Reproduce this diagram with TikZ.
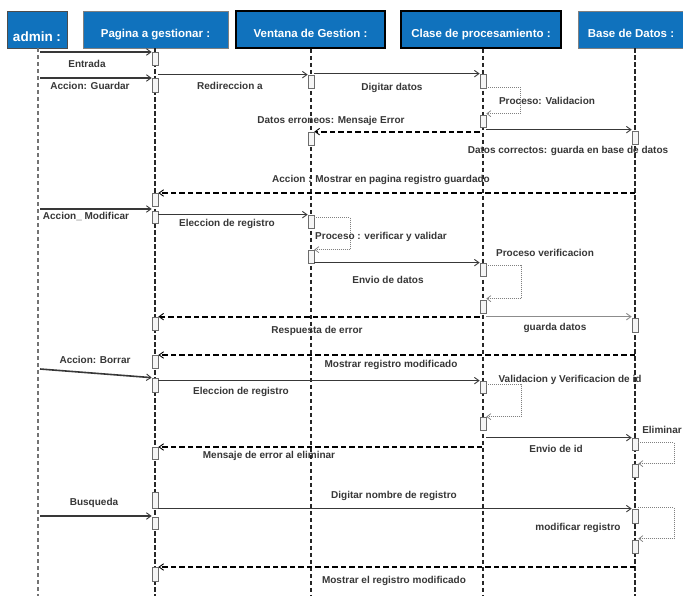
\documentclass[tikz,border=0pt]{standalone}
\usepackage{fontspec}
\setmainfont{Liberation Sans}
\usetikzlibrary{arrows.meta}
\definecolor{hdrblue}{RGB}{16,114,189}
\definecolor{txtgray}{RGB}{55,55,55}
\begin{document}
\begin{tikzpicture}[x=1pt,y=-1pt,
  hdr/.style={draw=#1, fill=hdrblue, text=white, font=\bfseries\fontsize{11.5}{12}\selectfont, inner sep=0pt, text height=16pt, text depth=0pt, minimum height=37pt},
  act/.style={draw=gray!85!black, fill=gray!8, line width=0.7pt, minimum width=6pt, minimum height=#1, inner sep=0pt},
  act/.default=13pt,
  life/.style={draw=black!85, line width=1.6pt, dash pattern=on 4.5pt off 2.5pt},
  lifeadm/.style={draw=black!55, line width=1.3pt, dash pattern=on 4pt off 3pt},
  msg/.style={draw=black!78, line width=1.6pt, -{Straight Barb[length=4.5pt,width=6.5pt,line width=0.9pt]}},
  msglight/.style={draw=black!45, line width=1.3pt, -{Straight Barb[length=4.5pt,width=6.5pt,line width=0.9pt]}},
  ret/.style={draw=black, line width=1.8pt, dash pattern=on 5.5pt off 3pt, -{Straight Barb[length=4.5pt,width=6.5pt,line width=0.9pt]}},
  loopmsg/.style={draw=gray, line width=0.8pt, dash pattern=on 1pt off 1pt, -{Straight Barb[length=4pt,width=6pt,line width=0.7pt]}},
  lbl/.style={text=txtgray, font=\bfseries\fontsize{10}{11}\selectfont, inner sep=0pt},
]
\useasboundingbox[fill=white] (0,0) rectangle (683,596);

% headers
\node[hdr=black!70, minimum width=60pt, text height=25pt, font=\bfseries\fontsize{13.5}{14}\selectfont] (Ha) at (37,29.5) {admin :};
\node[hdr=black!50, minimum width=145pt] (Hp) at (155.5,29.5) {Pagina a gestionar :};
\node[hdr=black, line width=1.6pt, minimum width=149pt] (Hv) at (310.5,29.5) {Ventana de Gestion :};
\node[hdr=black, line width=1.6pt, minimum width=160pt] (Hc) at (481,29.5) {Clase de procesamiento :};
\node[hdr=black!50, minimum width=106pt] (Hb) at (631,29.5) {Base de Datos :};

% lifeline ends
\coordinate (Ae) at (38,596);
\coordinate (Pe) at (155,596);
\coordinate (Ve) at (311,596);
\coordinate (Ce) at (483,596);
\coordinate (Be) at (635,596);
\draw[lifeadm] (Ae |- Ha.south) -- (Ae);
\draw[life] (Pe |- Hp.south) -- (Pe);
\draw[life] (Ve |- Hv.south) -- (Ve);
\draw[life] (Ce |- Hc.south) -- (Ce);
\draw[life] (Be |- Hb.south) -- (Be);

% activations
\node[act=13pt] (P1) at (155,58.5) {};
\node[act=14pt] (P2) at (155,85) {};
\node[act=13pt] (V1) at (311,81.5) {};
\node[act=14pt] (C1) at (483,81) {};
\node[act=12pt] (C2) at (483,121) {};
\node[act=13pt] (V2) at (311,138.5) {};
\node[act=13pt] (B1) at (635,137.5) {};
\node[act=13pt] (P3) at (155,199.5) {};
\node[act=12pt] (P4) at (155,217) {};
\node[act=13pt] (V3) at (311,221.5) {};
\node[act=13pt] (V4) at (311,256.5) {};
\node[act=13pt] (C3) at (483,269.5) {};
\node[act=13pt] (C4) at (483,306.5) {};
\node[act=13pt] (P5) at (155,323.5) {};
\node[act=14pt] (B2) at (635,325) {};
\node[act=13pt] (P6) at (155,361.5) {};
\node[act=14pt] (P7) at (155,385) {};
\node[act=12pt] (C5) at (483,387) {};
\node[act=13pt] (C6) at (483,423.5) {};
\node[act=12pt] (B3) at (635,444) {};
\node[act=12pt] (P8) at (155,453) {};
\node[act=13pt] (B4) at (635,470.5) {};
\node[act=16pt] (P9) at (155,500) {};
\node[act=12pt] (P10) at (155,523) {};
\node[act=14pt] (B5) at (635,516) {};
\node[act=13pt] (B6) at (635,546.5) {};
\node[act=14pt] (P11) at (155,574) {};

% free ends
\coordinate (a1) at (40,52);
\coordinate (a2) at (40,78);
\coordinate (a9) at (40,209);
\coordinate (a17) at (40,369);
\coordinate (a24) at (40,516);
\coordinate (b8) at (635,193);
\coordinate (b16) at (635,355);
\coordinate (c21) at (482,447);
\coordinate (b26) at (635,567);

% messages
\draw[msg] (a1) -- (a1 -| P1.west);
\draw[msg] (a2) -- (a2 -| P2.west);
\draw[msg] (V1.north -| P2.east) -- (V1.north west);
\draw[msg] (C1.north -| V1.east) -- (C1.north west);
\draw[loopmsg] ([yshift=1pt]C1.south east) -- ++(34,0) |- ([yshift=1pt]C2.north east);
\draw[ret] (V2.north -| C2.west) -- (V2.north east);
\draw[msg] ([yshift=1pt]B1.north -| C2.east) -- ([yshift=1pt]B1.north west);
\draw[ret] (b8) -- (b8 -| P3.east);
\draw[msg] (a9) -- (a9 -| P4.west);
\draw[msg] (V3.north -| P4.east) -- (V3.north west);
\draw[loopmsg] ([yshift=-3pt]V3.north east) -- ++(36,0) |- (V4.north east);
\draw[msg] (C3.north -| V4.east) -- (C3.north west);
\draw[loopmsg] ([yshift=-3pt]C3.north east) -- ++(35,0) |- ([yshift=1pt]C4.north east);
\draw[ret] (P5.north -| C4.west) -- (P5.north east);
\draw[msglight] ([yshift=1pt]B2.north -| C4.east) -- ([yshift=1pt]B2.north west);
\draw[ret] (b16) -- (b16 -| P6.east);
\draw[msg] (a17) -- (P7.north west);
\draw[msg] (C5.north -| P7.east) -- (C5.north west);
\draw[loopmsg] ([yshift=-4pt]C5.north east) -- ++(35,0) |- (C6.north east);
\draw[msg] (B3.north -| C6.east) -- (B3.north west);
\draw[ret] (c21) -- (c21 -| P8.east);
\draw[loopmsg] ([yshift=-5pt]B3.north east) -- ++(36,0) |- (B4.north east);
\draw[msg] (B5.north -| P9.east) -- (B5.north west);
\draw[msg] (a24) -- (a24 -| P10.west);
\draw[loopmsg] ([yshift=1pt]B5.north east) -- ++(36,0) |- ([yshift=1pt]B6.north east);
\draw[ret] (b26) -- (b26 -| P11.east);

% labels
\node[lbl] (l1) at (87,64) {Entrada};
\node[lbl] (l2) at (90,86) {Accion: Guardar};
\node[lbl] (l3) at (230,86) {Redireccion a};
\node[lbl] (l4) at (392,88) {Digitar datos};
\node[lbl] (l5) at (547,101) {Proceso: Validacion};
\node[lbl] (l6) at (331,121) {Datos erroneos: Mensaje Error};
\node[lbl] (l7) at (568,151) {Datos correctos: guarda en base de datos};
\node[lbl] (l8) at (381,180) {Accion : Mostrar en pagina registro guardado};
\node[lbl] (l9) at (86,216) {Accion\_ Modificar};
\node[lbl] (l10) at (227,224) {Eleccion de registro};
\node[lbl] (l11) at (381,237) {Proceso : verificar y validar};
\node[lbl] (l12) at (388,280) {Envio de datos};
\node[lbl] (l13) at (545,253) {Proceso verificacion};
\node[lbl] (l14) at (317,331) {Respuesta de error};
\node[lbl] (l15) at (555,328) {guarda datos};
\node[lbl] (l16) at (391,365) {Mostrar registro modificado};
\node[lbl] (l17) at (95,360) {Accion: Borrar};
\node[lbl] (l18) at (241,392) {Eleccion de registro};
\node[lbl] (l19) at (570,380) {Validacion y Verificacion de id};
\node[lbl] (l20) at (556,449) {Envio de id};
\node[lbl] (l21) at (269,456) {Mensaje de error al eliminar};
\node[lbl] (l22) at (662,430) {Eliminar};
\node[lbl] (l23) at (394,496) {Digitar nombre de registro};
\node[lbl] (l24) at (94,503) {Busqueda};
\node[lbl] (l25) at (578,528) {modificar registro};
\node[lbl] (l26) at (394,581) {Mostrar el registro modificado};
\end{tikzpicture}
\end{document}
